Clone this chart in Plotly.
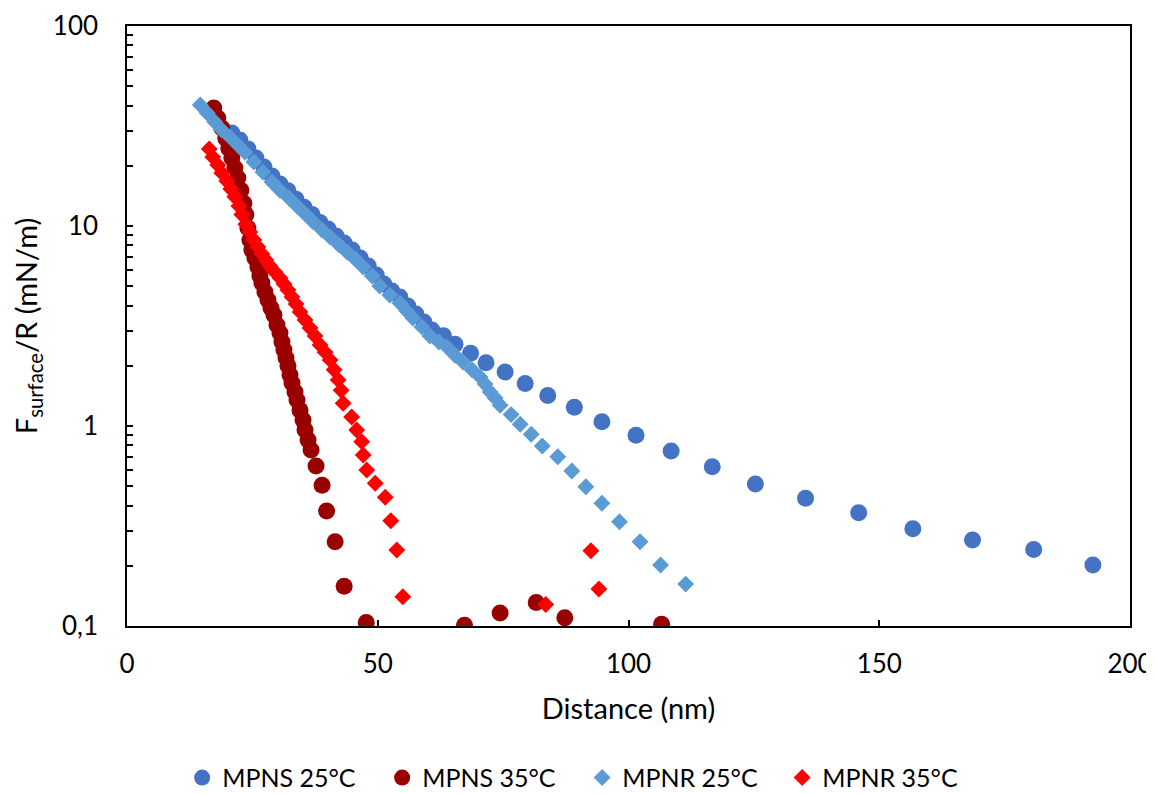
import plotly.graph_objects as go

# MPNS 25°C (circles)
mpns25_x = [20.9, 22.5, 24.1, 25.7, 27.3, 28.9, 30.5, 32.1, 33.7, 35.3, 36.9, 38.5, 40.1,
            41.7, 43.3, 44.9, 46.5, 48.1, 49.7, 51.2, 52.8, 54.4, 56.0, 57.6, 59.2, 60.8,
            63.1, 65.4, 68.5, 71.6, 75.4, 79.4, 83.9, 89.2, 94.7, 101.5, 108.5,
            116.7, 125.3, 135.3, 145.9, 156.7, 168.6, 180.8, 192.6]
mpns25_y = [29.2, 26.9, 24.3, 21.9, 19.7, 17.8, 16.2, 15.0, 13.6, 12.4, 11.4, 10.4, 9.66,
            8.91, 8.22, 7.59, 6.92, 6.31, 5.69, 5.13, 4.73, 4.42, 3.98, 3.63, 3.31, 3.02,
            2.83, 2.56, 2.31, 2.07, 1.86, 1.63, 1.42, 1.24, 1.05, 0.90, 0.75,
            0.626, 0.513, 0.435, 0.368, 0.306, 0.269, 0.241, 0.202]

# MPNS 35°C (circles)
mpns35_x = [17.3, 18.1, 18.9, 19.7, 20.3, 20.9, 21.5, 22.1, 22.7, 23.3, 23.7, 24.1, 24.5,
            24.9, 25.5, 26.1, 26.5, 26.9, 27.5, 28.1, 28.7, 29.3, 29.9, 30.5, 30.9, 31.3,
            31.7, 32.1, 32.5, 32.9, 33.5, 33.9, 34.5, 35.1, 35.5, 36.1, 36.7, 37.7, 38.9,
            39.8, 41.5, 43.3, 47.7, 67.3, 74.4, 81.6, 87.3, 106.6]
mpns35_y = [38.9, 34.7, 30.9, 27.5, 24.5, 21.9, 19.5, 17.4, 15.1, 13.0, 11.4, 9.77, 8.51,
            7.59, 6.92, 6.24, 5.62, 5.19, 4.68, 4.27, 3.89, 3.59, 3.20, 2.92, 2.63, 2.40,
            2.19, 2.00, 1.80, 1.64, 1.48, 1.35, 1.20, 1.07, 0.955, 0.851, 0.759, 0.631, 0.505,
            0.376, 0.264, 0.158, 0.104, 0.101, 0.116, 0.131, 0.110, 0.102]

# MPNR 25°C (diamonds)
mpnr25_x = [14.6, 16.0, 17.5, 18.9, 20.5, 22.1, 23.5, 25.3, 27.1, 28.9, 30.5, 32.3, 33.9,
            35.5, 37.1, 38.9, 40.5, 42.3, 43.9, 45.5, 47.1, 48.9, 50.4, 52.4, 54.4, 55.8,
            57.0, 58.8, 60.4, 62.2, 63.8, 65.4, 67.0, 68.8, 70.4, 71.4, 72.4, 73.4,
            74.4, 76.6, 78.4, 80.6, 82.8, 85.9, 88.7, 91.5, 94.7, 98.2, 102.3, 106.4, 111.4]
mpnr25_y = [40.3, 36.7, 33.1, 30.2, 27.9, 25.4, 23.4, 20.9, 18.6, 16.6, 15.1, 13.8, 12.6,
            11.5, 10.5, 9.55, 8.81, 8.04, 7.41, 6.84, 6.24, 5.62, 5.01, 4.52, 4.12, 3.76,
            3.47, 3.13, 2.82, 2.63, 2.48, 2.26, 2.09, 1.91, 1.76, 1.62, 1.48, 1.38,
            1.27, 1.14, 1.02, 0.909, 0.794, 0.702, 0.596, 0.497, 0.411, 0.332, 0.264, 0.202, 0.162]

# MPNR 35°C (diamonds)
mpnr35_x = [16.4, 17.1, 18.1, 18.9, 19.9, 20.7, 21.5, 22.3, 22.9, 23.7, 24.5, 25.3, 26.1,
            26.9, 27.7, 28.5, 29.5, 30.5, 31.3, 32.1, 32.9, 33.7, 34.5, 35.5, 36.5, 37.5,
            38.5, 39.5, 40.5, 41.3, 42.1, 42.7, 43.1, 44.8, 45.8, 46.8, 47.1, 47.8, 49.5,
            51.5, 52.6, 53.8, 55.0, 83.5, 92.5, 94.1]
mpnr35_y = [24.3, 22.1, 20.2, 18.4, 16.8, 15.3, 14.0, 12.6, 11.4, 10.2, 9.33, 8.51, 7.85,
            7.24, 6.76, 6.31, 5.89, 5.50, 5.13, 4.79, 4.42, 4.07, 3.72, 3.39, 3.09, 2.82,
            2.54, 2.34, 2.14, 1.91, 1.70, 1.51, 1.30, 1.11, 0.955, 0.835, 0.716, 0.603, 0.517,
            0.440, 0.336, 0.240, 0.140, 0.128, 0.238, 0.153]

y_major = [0.1, 1, 10, 100]
y_labels = ["0,1", "1", "10", "100"]
y_minor = [m * 10 ** k for k in (-1, 0, 1) for m in range(2, 10)]

FONT = "Lato"

fig = go.Figure()

series = [
    ("MPNS 25°C", mpns25_x, mpns25_y, "circle", 17, "#4472C4"),
    ("MPNS 35°C", mpns35_x, mpns35_y, "circle", 17, "#990000"),
    ("MPNR 25°C", mpnr25_x, mpnr25_y, "diamond", 13, "#5B9BD5"),
    ("MPNR 35°C", mpnr35_x, mpnr35_y, "diamond", 13, "#FF0000"),
]
for name, xs, ys, sym, size, color in series:
    fig.add_trace(
        go.Scatter(
            x=xs, y=ys, mode="markers", name=name,
            marker=dict(symbol=sym, size=size, color=color, line=dict(width=0)),
        )
    )

# page body adds ~8px offset, margins compensate for it
fig.update_layout(
    width=1154, height=794,
    margin=dict(l=119, r=32, t=18, b=176, autoexpand=False),
    paper_bgcolor="white", plot_bgcolor="white",
    font=dict(family=FONT, size=24, color="black"),
    showlegend=True,
    legend=dict(
        orientation="h", x=0.055, xanchor="left", y=-0.253, yanchor="middle",
        font=dict(size=25), itemwidth=30, traceorder="normal",
        entrywidth=155, entrywidthmode="pixels",
    ),
)

fig.update_xaxes(
    range=[0, 200], dtick=50, ticks="inside", ticklen=6, tickwidth=1.5, tickcolor="black",
    showline=True, linecolor="black", linewidth=1.5, mirror=True, showgrid=False,
    zeroline=False, ticklabelstandoff=14, automargin=False,
    tickfont=dict(size=26),
    title=dict(text="Distance (nm)", standoff=21),
)
fig.update_yaxes(
    type="log", range=[-1, 2], tickvals=y_major, ticktext=y_labels,
    ticks="inside", ticklen=6, tickwidth=1.5, tickcolor="black",
    minor=dict(tickvals=y_minor, ticks="inside", ticklen=6, tickwidth=1.5, tickcolor="black",
               showgrid=False),
    showline=True, linecolor="black", linewidth=1.5, mirror=True, showgrid=False,
    zeroline=False, ticklabelstandoff=22, automargin=False,
    tickfont=dict(size=26),
    title=dict(text="F<sub>surface</sub>/R (mN/m)", standoff=8),
)

fig.write_html("out.html")
